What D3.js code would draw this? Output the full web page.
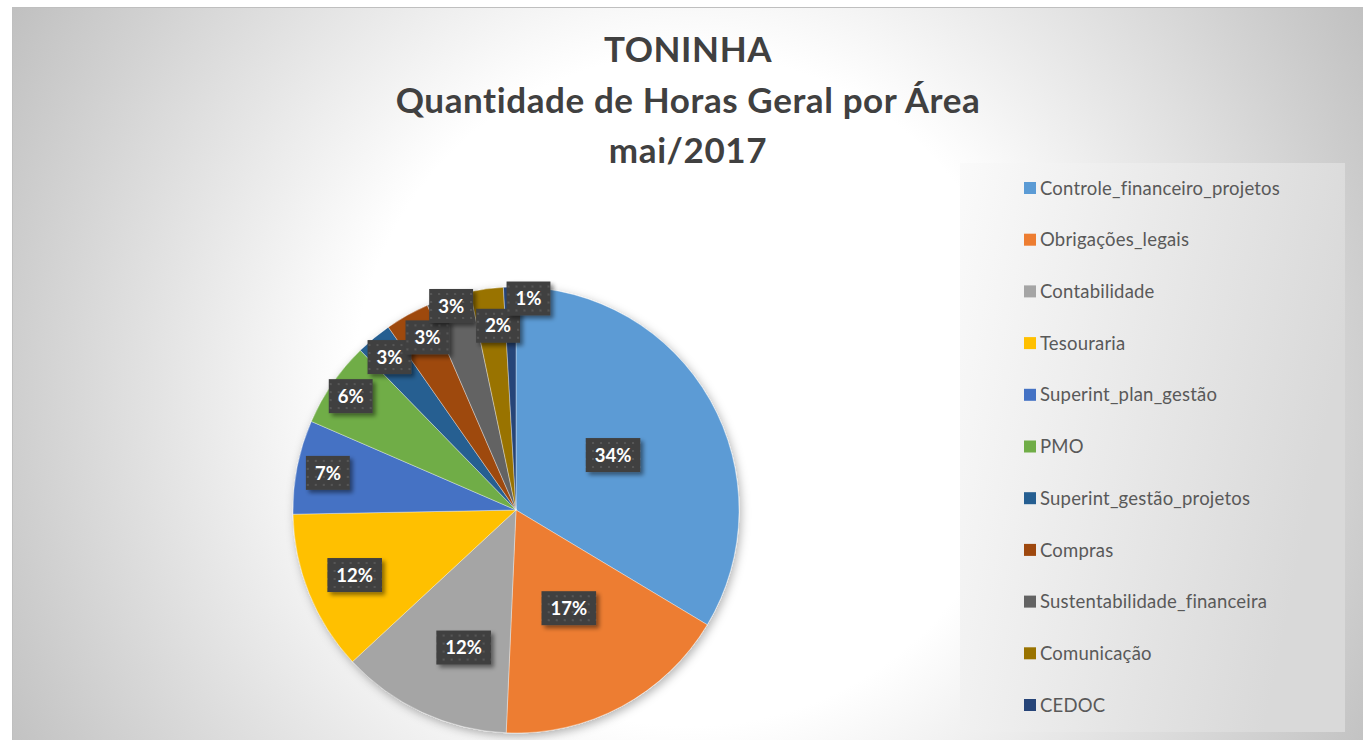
<!DOCTYPE html>
<html>
<head>
<meta charset="utf-8">
<script src="https://cdn.jsdelivr.net/npm/d3@7"></script>
<style>
  body { margin: 0; background: #fff; }
  svg { display: block; font-family: Lato, "Open Sans", sans-serif; }
</style>
</head>
<body>
<script>
// chart data (share of hours, in %)
var areas = ["Controle_financeiro_projetos", "Obrigações_legais", "Contabilidade", "Tesouraria",
             "Superint_plan_gestão", "PMO", "Superint_gestão_projetos", "Compras",
             "Sustentabilidade_financeira", "Comunicação", "CEDOC"];
var hours = [33.6, 17.1, 12.4, 11.6, 6.8, 6.2, 2.6, 3.2, 3.2, 2.4, 0.9];
var colors = ["#5B9BD5", "#ED7D31", "#A5A5A5", "#FFC000", "#4472C4", "#70AD47",
              "#255E91", "#9E480E", "#636363", "#997300", "#264478"];
var titleLines = ["TONINHA", "Quantidade de Horas Geral por Área", "mai/2017"];

// label placement ("best fit"): radius fraction and angle nudge (deg)
var labelRadius = [0.5, 0.5, 0.66, 0.78, 0.86, 0.9, 0.89, 0.87, 0.96, 0.83, 0.95];
var labelNudge  = [0, 0, -4, 0, 0, 0, 0, 2, 0, 2, 5];

var width = 1363, height = 740;
var cx = 516, cy = 510, radius = 223;

var svg = d3.select("body").append("svg")
    .attr("width", width)
    .attr("height", height);

var defs = svg.append("defs");

// background gradient of the chart area
var bg = defs.append("radialGradient")
    .attr("id", "bgGrad")
    .attr("gradientUnits", "userSpaceOnUse")
    .attr("cx", 690).attr("cy", 390).attr("r", 800);
bg.append("stop").attr("offset", "0").attr("stop-color", "#ffffff");
bg.append("stop").attr("offset", "0.42").attr("stop-color", "#ffffff");
bg.append("stop").attr("offset", "1").attr("stop-color", "#bdbdbd");

var lg = defs.append("linearGradient")
    .attr("id", "legGrad")
    .attr("x1", "0").attr("y1", "0").attr("x2", "1").attr("y2", "0.3");
lg.append("stop").attr("offset", "0").attr("stop-color", "#fafafa");
lg.append("stop").attr("offset", "1").attr("stop-color", "#d9d9d9");

// dotted texture of the data labels
var pat = defs.append("pattern")
    .attr("id", "dots")
    .attr("patternUnits", "userSpaceOnUse")
    .attr("width", 8).attr("height", 8);
pat.append("rect").attr("width", 8).attr("height", 8).attr("fill", "#404040");
pat.append("circle").attr("cx", 4).attr("cy", 4).attr("r", 1.1).attr("fill", "#5c5c5c");

var pieShadow = defs.append("filter").attr("id", "pieShadow")
    .attr("x", "-20%").attr("y", "-20%").attr("width", "140%").attr("height", "140%");
pieShadow.append("feDropShadow")
    .attr("dx", 2).attr("dy", 3).attr("stdDeviation", 5)
    .attr("flood-color", "#000").attr("flood-opacity", 0.3);

var boxShadow = defs.append("filter").attr("id", "boxShadow")
    .attr("x", "-30%").attr("y", "-30%").attr("width", "170%").attr("height", "170%");
boxShadow.append("feDropShadow")
    .attr("dx", 3).attr("dy", 3).attr("stdDeviation", 2)
    .attr("flood-color", "#000").attr("flood-opacity", 0.45);

// chart area
svg.append("rect")
    .attr("x", 12.5).attr("y", 7.5)
    .attr("width", 1400).attr("height", 800)
    .attr("fill", "url(#bgGrad)")
    .attr("stroke", "#bfbfbf");

// title
svg.append("g").selectAll("text")
    .data(titleLines)
    .enter().append("text")
    .attr("x", 688)
    .attr("y", function(d, i) { return 62 + i * 50.5; })
    .attr("text-anchor", "middle")
    .style("font-size", "35px")
    .style("letter-spacing", "0.6px")
    .style("font-weight", "bold")
    .style("fill", "#404040")
    .text(function(d) { return d; });

// pie
var data = areas.map(function(a, i) { return {name: a, value: hours[i], i: i}; });
var pie = d3.pie().sort(null).value(function(d) { return d.value; });
var arcs = pie(data);
var total = d3.sum(hours);

var arc = d3.arc().innerRadius(0).outerRadius(radius);

var pieG = svg.append("g")
    .attr("transform", "translate(" + cx + "," + cy + ")");

pieG.append("g")
    .attr("filter", "url(#pieShadow)")
    .selectAll("path")
    .data(arcs)
    .enter().append("path")
    .attr("d", arc)
    .attr("fill", function(d) { return colors[d.data.i]; })
    .attr("stroke", "#ffffff")
    .attr("stroke-width", 0.6)
    .attr("stroke-opacity", 0.6);

// data labels
var fmt = d3.format(".0%");
var lab = pieG.append("g").selectAll("g")
    .data(arcs)
    .enter().append("g")
    .attr("transform", function(d) {
        var i = d.data.i;
        var r = radius * labelRadius[i];
        var a = (d.startAngle + d.endAngle) / 2 + labelNudge[i] * Math.PI / 180;
        var p = d3.arc().innerRadius(r).outerRadius(r).startAngle(a).endAngle(a).centroid();
        return "translate(" + p[0] + "," + p[1] + ")";
    });

var labText = lab.append("text")
    .attr("text-anchor", "middle")
    .attr("dy", "0.36em")
    .style("font-size", "18.5px")
    .style("font-weight", "bold")
    .style("fill", "#ffffff")
    .text(function(d) { return fmt(d.data.value / total); });

lab.insert("rect", "text")
    .each(function(d, i) {
        var w = labText.nodes()[i].getComputedTextLength() + 18;
        d3.select(this)
          .attr("x", -w / 2).attr("y", -17)
          .attr("width", w).attr("height", 34);
    })
    .attr("fill", "url(#dots)")
    .attr("filter", "url(#boxShadow)");

// legend
svg.append("rect")
    .attr("x", 960).attr("y", 163)
    .attr("width", 385).attr("height", 569)
    .attr("fill", "url(#legGrad)");

var ly = d3.scalePoint().domain(areas).range([188, 705]);

var leg = svg.append("g").selectAll("g")
    .data(areas)
    .enter().append("g")
    .attr("transform", function(d) { return "translate(1024," + ly(d) + ")"; });

leg.append("rect")
    .attr("x", 0).attr("y", -6)
    .attr("width", 12).attr("height", 12)
    .attr("fill", function(d, i) { return colors[i]; });

leg.append("text")
    .attr("x", 16)
    .attr("dy", "0.36em")
    .style("font-size", "18.5px")
    .style("letter-spacing", "0.2px")
    .style("fill", "#595959")
    .text(function(d) { return d; });
</script>
</body>
</html>
